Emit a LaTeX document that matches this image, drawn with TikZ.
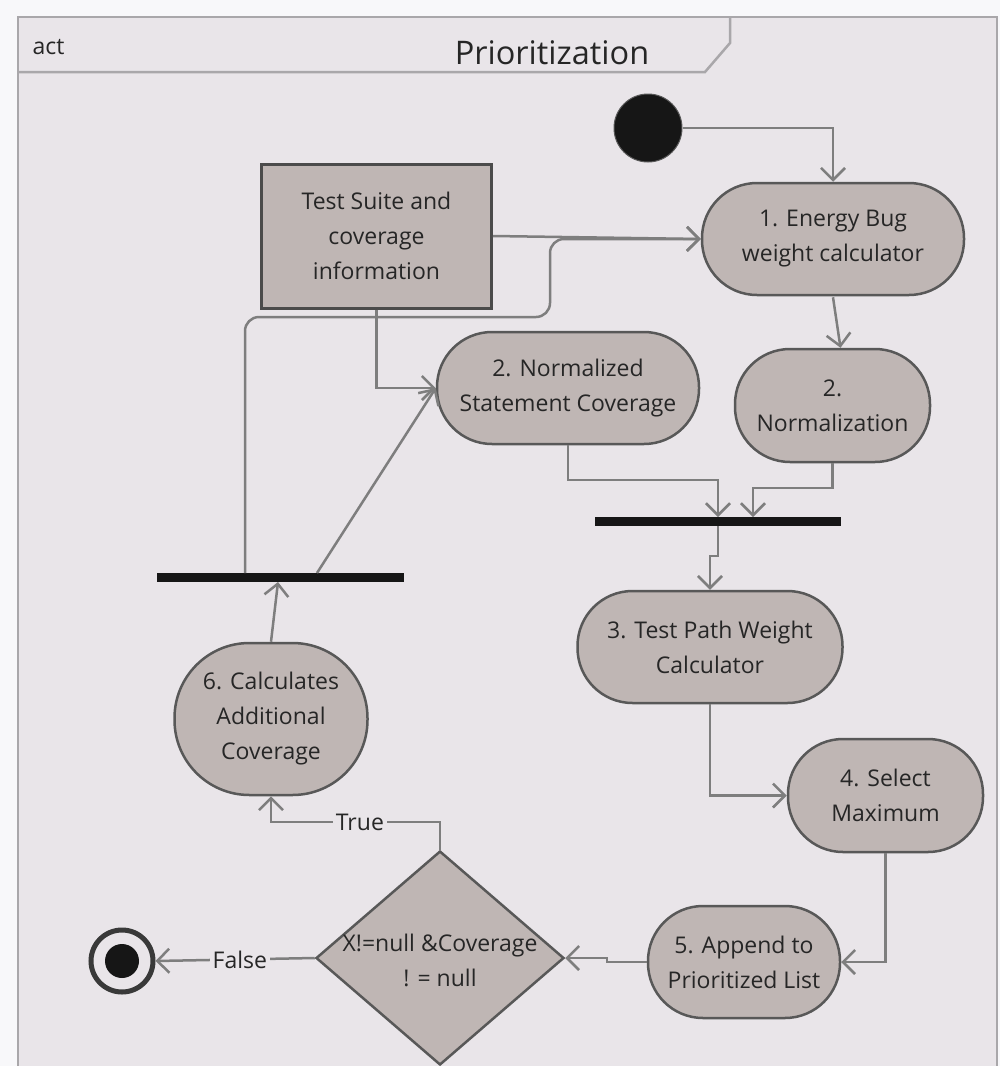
\documentclass[tikz,border=0pt]{standalone}
\usepackage{fontspec}
\setmainfont{Open Sans}
\usetikzlibrary{arrows.meta,shapes.geometric}
\definecolor{pagebg}{HTML}{F8F8FA}
\definecolor{framebg}{HTML}{E9E5E9}
\definecolor{framelc}{HTML}{A9A7AA}
\definecolor{actfill}{HTML}{BFB6B4}
\definecolor{actline}{HTML}{585858}
\definecolor{flowc}{HTML}{7E7E7E}
\definecolor{txtc}{HTML}{262626}
\definecolor{barc}{HTML}{161616}
\begin{document}
\begin{tikzpicture}[x=1pt,y=-1pt,
  every node/.style={font=\fontsize{23}{35}\selectfont, text=txtc},
  action/.style={draw=actline, fill=actfill, line width=2.5pt, align=center,
    inner sep=0pt, rectangle, rounded corners=#1},
  action/.default=55pt,
  objbox/.style={draw=actline!85!black, fill=actfill, line width=3pt, align=center,
    inner sep=0pt, rectangle},
  decision/.style={draw=actline, fill=actfill, line width=2.5pt, diamond,
    inner sep=0pt, minimum width=248pt, minimum height=214pt},
  forkbar/.style={fill=barc, rectangle, inner sep=0pt, minimum height=9pt},
  flowline/.style={draw=flowc, line width=2.5pt,
    -{Straight Barb[length=12pt,width=24pt,line width=2.5pt]}},
  guard/.style={fill=framebg, inner sep=3pt}
]
\useasboundingbox (0,0) rectangle (1000,1066);
\fill[pagebg] (0,0) rectangle (1000,1066);

% activity frame with its name tab
\draw[framelc, line width=2.5pt, fill=framebg] (18,1080) -- (18,17) -- (997,17) -- (997,1080);
\draw[framelc, line width=2.5pt] (18,72) -- (705,72) -- (730,43) -- (730,17);
\node[anchor=west] (kind) at (29,47) {act};
\node[font=\fontsize{32.5}{38}\selectfont] (title) at (552,53) {Prioritization};

% initial and final nodes
\node[circle, fill=barc, draw=actline, line width=1pt, minimum size=68pt, inner sep=0pt] (start) at (648,128) {};
\node[circle, draw=barc!85!white, line width=5pt, fill=framebg, minimum size=62pt, inner sep=0pt] (endc) at (122,961) {};
\node[circle, fill=barc, minimum size=34pt, inner sep=0pt] (endin) at (endc.center) {};

% actions
\node[action, minimum width=262pt, minimum height=112pt] (n1) at (833,239) {1. Energy Bug\\weight calculator};
\node[objbox, minimum width=230pt, minimum height=144pt] (ts) at (376.5,236) {Test Suite and\\coverage\\information};
\node[action, minimum width=262pt, minimum height=112pt] (nsc) at (568,388) {2. Normalized\\Statement Coverage};
\node[action, minimum width=195pt, minimum height=113pt] (norm) at (832.5,405.5) {2.\\Normalization};
\node[action, minimum width=265pt, minimum height=112pt] (n3) at (710,647) {3. Test Path Weight\\Calculator};
\node[action, minimum width=195pt, minimum height=113pt] (n4) at (885.5,795.5) {4. Select\\Maximum};
\node[action, minimum width=192pt, minimum height=112pt] (n5) at (744,962) {5. Append to\\Prioritized List};
\node[action=75pt, minimum width=193pt, minimum height=152pt] (n6) at (271,719) {6. Calculates\\Additional\\Coverage};

% decision
\node[decision] (dia) at (440,958) {};
\node[align=center] (diatxt) at (440,960) {X!=null \&Coverage\\! = null};

% fork bars
\node[forkbar, minimum width=246pt] (bar2) at (718,521.5) {};
\node[forkbar, minimum width=247pt] (bar1) at (280.5,577) {};

% points on the bars and bends of the connectors
\coordinate (b1loop) at (245,573);
\coordinate (b1diag) at (317,573);
\coordinate (b1in) at (278,582);
\coordinate (loopA) at (245,317);
\coordinate (loopB) at (550,317);
\coordinate (b2inA) at (718,517);
\coordinate (b2inB) at (753,517);
\coordinate (j1) at (718,480);
\coordinate (j2) at (753,488);
\coordinate (b2out) at (718,526);
\coordinate (j3) at (718,556);
\coordinate (j4) at (710,556);
\coordinate (j5) at (607,962);
\coordinate (j6) at (607,958);
\coordinate (j7) at (440,822);

% control flows
\draw[flowline] (start.east) -| (n1.north);
\draw[flowline] (ts.east) -- (n1.west);
\draw[flowline, rounded corners=14pt] (b1loop) -- (loopA) -- (loopB) |- (n1.west);
\draw[flowline] (ts.south) |- (nsc.west);
\draw[flowline] (b1diag) -- (nsc.west);
\draw[flowline] ([yshift=-1pt]n1.south) -- ([xshift=8pt]norm.north);
\draw[flowline] (nsc.south) |- (j1) -- (b2inA);
\draw[flowline] (norm.south) |- (j2) -- (b2inB);
\draw[flowline] (b2out) -- (j3) -- (j4) -- (n3.north);
\draw[flowline] (n3.south) |- (n4.west);
\draw[flowline] (n4.south) |- (n5.east);
\draw[flowline] (n5.west) -- (j5) -- (j6) -- (dia.east);
\draw[flowline] (dia.north) -- (j7) -| node[guard, pos=0.237] (ltrue) {True} (n6.south);
\draw[flowline] (dia.west) -- node[guard, pos=0.47] (lfalse) {False} (endc.east);
\draw[flowline] (n6.north) -- (b1in);
\end{tikzpicture}
\end{document}
